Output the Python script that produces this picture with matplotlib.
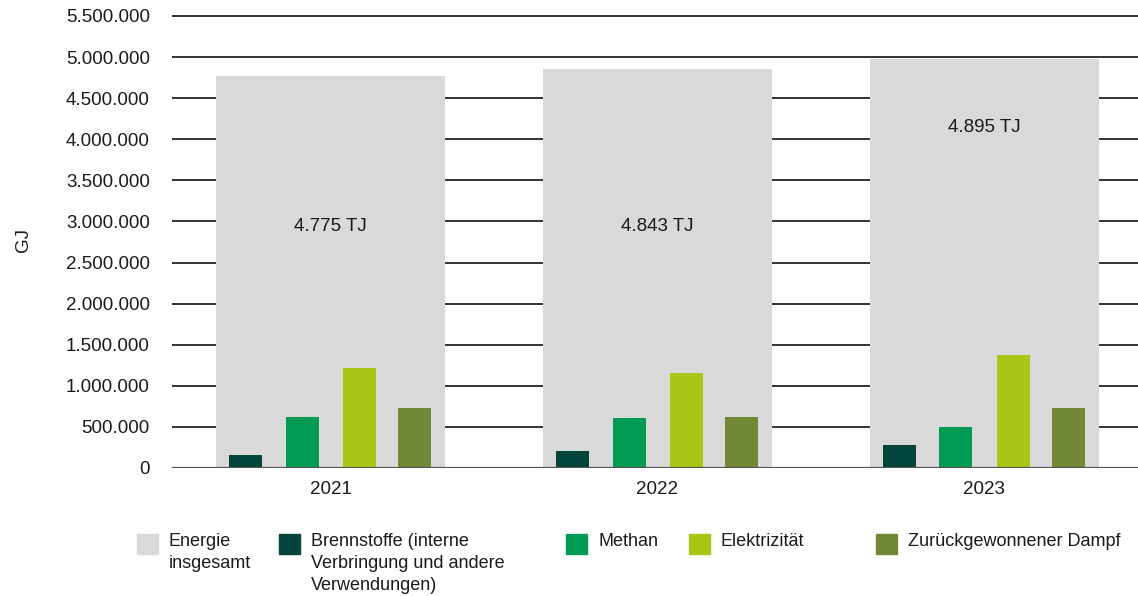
import matplotlib
matplotlib.use("Agg")
import matplotlib.pyplot as plt
from matplotlib.patches import Rectangle
import numpy as np

plt.rcParams['font.family'] = ['Liberation Sans', 'DejaVu Sans']

years = ["2021", "2022", "2023"]
total_heights = [4765000, 4855000, 4975000]
total_labels = ["4.775 TJ", "4.843 TJ", "4.895 TJ"]
label_y = [2940000, 2940000, 4140000]
brennstoffe = [160000, 207000, 280000]
methan = [620000, 608000, 500000]
elektrizitaet = [1217000, 1156000, 1375000]
dampf = [730000, 620000, 730000]
yticks = [0, 500000, 1000000, 1500000, 2000000, 2500000, 3000000, 3500000,
          4000000, 4500000, 5000000, 5500000]
legend_labels = ["Energie\ninsgesamt",
                 "Brennstoffe (interne\nVerbringung und andere\nVerwendungen)",
                 "Methan", "Elektrizität", "Zurückgewonnener Dampf"]

c_total = "#d9d9d9"
colors = ["#03453a", "#009b52", "#aac614", "#728837"]
series = [brennstoffe, methan, elektrizitaet, dampf]

W, H = 1138, 596
fig = plt.figure(figsize=(W / 100, H / 100), dpi=100)
ymax = 5600000
ax_h = (468 - 16) / 5500000 * ymax / H
ax = fig.add_axes([172 / W, 1 - 468 / H, 1 - 172 / W, ax_h])
ax.set_ylim(0, ymax)
ax.set_xlim(-0.485, 2.47)

x = np.arange(len(years))
ax.bar(x, total_heights, width=0.70, color=c_total, zorder=2)
offsets = [-0.26, -0.087, 0.089, 0.257]
for off, vals, col in zip(offsets, series, colors):
    ax.bar(x + off, vals, width=0.101, color=col, zorder=3)

FS = 13.5
for xi, lab, ly in zip(x, total_labels, label_y):
    ax.text(xi, ly, lab, ha='center', va='center', fontsize=FS, color='#1a1a1a', zorder=4)

for yt in yticks[1:]:
    ax.axhline(yt, color='#222222', lw=1.3, zorder=1)
ax.axhline(0, color='#555555', lw=1.6, zorder=5)

for s in ax.spines.values():
    s.set_visible(False)
ax.set_yticks(yticks)
ax.set_yticklabels([f"{v:,}".replace(",", ".") for v in yticks], fontsize=FS, color='#1a1a1a')
ax.set_xticks(x)
ax.set_xticklabels(years, fontsize=FS, color='#1a1a1a')
ax.tick_params(axis='both', length=0)
ax.tick_params(axis='y', pad=16)
ax.tick_params(axis='x', pad=9)
ax.set_ylabel("GJ", fontsize=FS, color='#1a1a1a', labelpad=0)
ax.yaxis.set_label_coords(-(172 - 32) / (W - 172), (468 - 240) / (468 - 16) * 5500000 / ymax)

# legend (manual)
leg_x = [137, 279, 566, 689, 876]
leg_cols = [c_total] + colors
for lx, lab, col in zip(leg_x, legend_labels, leg_cols):
    fig.patches.append(Rectangle((lx / W, 1 - 554 / H), 21 / W, 20 / H,
                                 transform=fig.transFigure, color=col))
    fig.text((lx + 32) / W, 1 - 533 / H, lab, ha='left', va='top', fontsize=13,
             color='#1a1a1a', linespacing=1.4)

fig.savefig("out.png", dpi=100)
